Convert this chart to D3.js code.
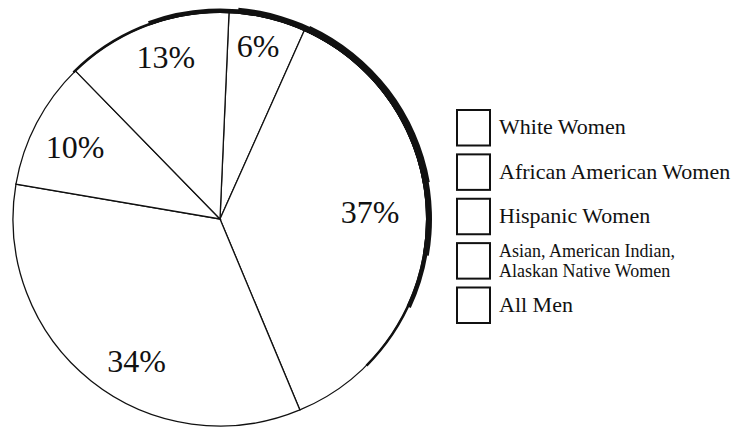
<!DOCTYPE html>
<html>
<head>
<meta charset="utf-8">
<script src="https://cdn.jsdelivr.net/npm/d3@7/dist/d3.min.js"></script>
</head>
<body style="margin:0">
<svg width="743" height="428"></svg>
<script>
// legend categories, top to bottom
var categories = ['White Women', 'African American Women', 'Hispanic Women',
  'Asian, American Indian, Alaskan Native Women', 'All Men'];
var legendLines = [['White Women'], ['African American Women'], ['Hispanic Women'],
  ['Asian, American Indian,', 'Alaskan Native Women'], ['All Men']];

// slices clockwise, starting just right of 12 o'clock
var sliceLabels = ['6%', '37%', '34%', '10%', '13%'];
var sliceValues = [6, 37, 34, 10, 13];

var cx = 220, cy = 219, radius = 207;
var startAngle = 2.5 * Math.PI / 180;
var fontName = 'Liberation Serif';

var svg = d3.select('svg');
var g = svg.append('g').attr('transform', 'translate(' + [cx, cy] + ')');

var pie = d3.pie().sort(null)
  .startAngle(startAngle).endAngle(startAngle + 2 * Math.PI);
var arcs = pie(sliceValues);

var arc = d3.arc().innerRadius(0).outerRadius(radius);

g.selectAll('path.slice').data(arcs).enter().append('path')
  .attr('class', 'slice')
  .attr('d', arc)
  .attr('fill', '#fff')
  .attr('stroke', '#111')
  .attr('stroke-width', 1.3);

// heavy printed edge along the upper right of the rim
var rad = Math.PI / 180;
var rim = d3.arc();
[[-45, 135, 2.5], [-20, 115, 4.5], [5, 100, 6], [25, 80, 7]].forEach(r => {
  g.append('path')
    .attr('d', rim({innerRadius: radius - 1, outerRadius: radius + r[2] - 1,
      startAngle: r[0] * rad, endAngle: r[1] * rad}))
    .attr('fill', '#111');
});

// percent labels (baseline placed near each slice centroid)
var labelArc = d3.arc().innerRadius(166).outerRadius(166);
var nudge = {'6%': [0, 0], '37%': [-16, 2], '34%': [20, 23], '10%': [2, 16], '13%': [5, 4]};
g.selectAll('text.pct').data(arcs).enter().append('text')
  .attr('class', 'pct')
  .attr('x', (d, i) => labelArc.centroid(d)[0] + nudge[sliceLabels[i]][0])
  .attr('y', (d, i) => labelArc.centroid(d)[1] + nudge[sliceLabels[i]][1])
  .attr('text-anchor', 'middle')
  .attr('font-family', '"' + fontName + '"')
  .attr('font-size', 32)
  .attr('fill', '#111')
  .text((d, i) => sliceLabels[i]);

// legend
var legendY = d3.scaleBand().domain(categories).range([110, 323]).paddingInner(0.2);
var legend = svg.append('g').selectAll('g').data(categories).enter().append('g')
  .attr('transform', d => 'translate(' + [457, legendY(d)] + ')');

legend.append('rect')
  .attr('width', 33)
  .attr('height', legendY.bandwidth())
  .attr('fill', '#fff')
  .attr('stroke', '#111')
  .attr('stroke-width', 2);

legend.each(function(d, i) {
  var lines = legendLines[i];
  var h = legendY.bandwidth();
  var y0 = lines.length > 1 ? h / 2 - 3.5 : h / 2 + 6.5;
  d3.select(this).selectAll('text').data(lines).enter().append('text')
    .attr('x', 42)
    .attr('y', (s, k) => y0 + k * 20)
    .attr('font-family', '"' + fontName + '"')
    .attr('font-size', lines.length > 1 ? 18 : 22)
    .attr('fill', '#111')
    .text(s => s);
});
</script>
</body>
</html>
